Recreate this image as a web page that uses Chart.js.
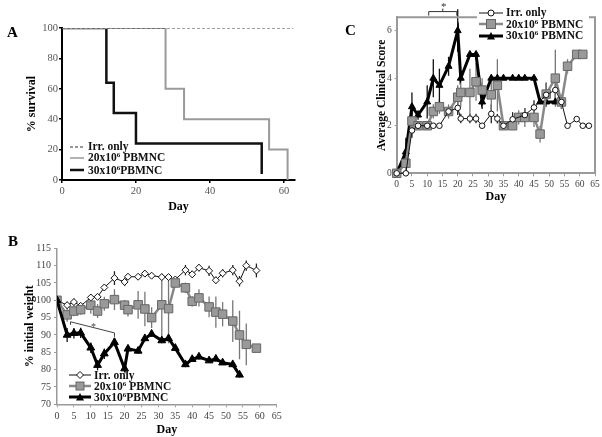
<!DOCTYPE html>
<html>
<head>
<meta charset="utf-8">
<title>Survival, weight and clinical score</title>
<script src="https://cdn.jsdelivr.net/npm/chart.js"></script>
<style>
  body { margin: 0; background: #fff; font-family: "Liberation Serif", "Times New Roman", serif; }
  #wrap { position: relative; width: 602px; height: 437px; overflow: hidden; }
  canvas { position: absolute; left: 0; top: 0; }
  .panel { position: absolute; font-weight: bold; font-size: 15px; line-height: 16px; }
  .legend { position: absolute; font-weight: bold; font-size: 11.5px; line-height: 11px; color: #111; }
  .legend div { display: flex; align-items: center; white-space: nowrap; height: 11px; }
  .legend svg { margin-right: 3px; flex: none; }
  sup { font-size: 7px; vertical-align: 4px; line-height: 0; }
  #legC { background: #fff; padding: 2px 6px 2px 2px; }
</style>
</head>
<body>
<div id="wrap">
  <canvas id="chartA" width="602" height="437"></canvas>
  <canvas id="chartB" width="602" height="437"></canvas>
  <canvas id="chartC" width="602" height="437"></canvas>

  <div class="panel" style="left:7px; top:24px;">A</div>
  <div class="panel" style="left:8px; top:233px;">B</div>
  <div class="panel" style="left:345px; top:22px;">C</div>

  <!-- legenda A -->
  <div class="legend" id="legA" style="left:70px; top:141px;">
    <div><svg width="15" height="8"><line x1="0" y1="4" x2="14" y2="4" stroke="#333" stroke-width="1" stroke-dasharray="3,2"/></svg><span>Irr. only</span></div>
    <div><svg width="15" height="8"><line x1="0" y1="4" x2="14" y2="4" stroke="#9a9a9a" stroke-width="1.5"/></svg><span>20x10<sup>6</sup> PBMNC</span></div>
    <div style="margin-top:1.5px"><svg width="15" height="8"><line x1="0" y1="4" x2="14" y2="4" stroke="#111" stroke-width="2.5"/></svg><span>30x10<sup>6</sup>PBMNC</span></div>
  </div>

  <!-- legenda B -->
  <div class="legend" id="legB" style="left:69px; top:369.5px;">
    <div><svg width="22" height="10"><line x1="0" y1="5" x2="22" y2="5" stroke="#111" stroke-width="1"/><path d="M11 1.5 L14.5 5 L11 8.5 L7.5 5 Z" fill="#fff" stroke="#111" stroke-width="1"/></svg><span>Irr. only</span></div>
    <div><svg width="22" height="10"><line x1="0" y1="5" x2="22" y2="5" stroke="#888" stroke-width="2.5"/><rect x="7" y="1" width="8" height="8" fill="#999" stroke="#666" stroke-width="1"/></svg><span>20x10<sup>6</sup> PBMNC</span></div>
    <div><svg width="22" height="10"><line x1="0" y1="5" x2="22" y2="5" stroke="#000" stroke-width="3"/><path d="M11 1 L15 8.5 L7 8.5 Z" fill="#000"/></svg><span>30x10<sup>6</sup>PBMNC</span></div>
  </div>

  <!-- legenda C -->
  <div class="legend" id="legC" style="left:477px; top:5px; line-height:11.5px;">
    <div style="height:11.5px"><svg width="24" height="10"><line x1="0" y1="5" x2="24" y2="5" stroke="#111" stroke-width="1"/><circle cx="12" cy="5" r="3" fill="#fff" stroke="#111" stroke-width="1"/></svg><span>Irr. only</span></div>
    <div style="height:11.5px"><svg width="24" height="10"><line x1="0" y1="5" x2="24" y2="5" stroke="#888" stroke-width="2.5"/><rect x="7.5" y="0.5" width="9" height="9" fill="#999" stroke="#666" stroke-width="1"/></svg><span>20x10<sup>6</sup> PBMNC</span></div>
    <div style="height:11.5px"><svg width="24" height="10"><line x1="0" y1="5" x2="24" y2="5" stroke="#000" stroke-width="3"/><path d="M12 1 L16 8.5 L8 8.5 Z" fill="#000"/></svg><span>30x10<sup>6</sup> PBMNC</span></div>
  </div>
</div>

<script>
  // ---- A: sopravvivenza (%) ----
  const survDaysIrr = [0, 62.5];
  const survIrr = [100, 100];
  const survDays20 = [0, 28, 33, 56, 61];
  const surv20 = [100, 60, 40, 20, 0];
  const survDays30 = [0, 12, 14, 20, 54];
  const surv30 = [100, 64, 44, 24, 4];
  const survTicksX = [0, 20, 40, 60];

  // ---- B: peso iniziale (%) ----
  const wDays = [0, 3, 5, 7, 10, 12, 14, 17, 20, 21, 24, 26, 28, 31, 33, 35, 38, 40, 42, 45, 47, 49, 52, 54, 56, 59];
  const wIrr = [100, 98.6, 99.5, 98.4, 100.8, 101, 103.7, 106.4, 105.3, 106.8, 106.8, 107.7, 107.1, 106.7, 106.7, 106, 108.7, 107.5, 109.4, 108.5, 105.8, 107.8, 108.7, 105.5, 110, 108.6];
  const wIrrErr = [0, 1, 1, 0.8, 1, 0.6, 0.8, 2, 1.2, 0.6, 0.6, 0.6, 0.6, 0.6, 0.6, 0.6, 1.5, 1, 1, 1.5, 1, 1.2, 1.5, 1.5, 1.5, 2];
  const w20 = [100, 95.8, 96.9, 97.3, 98.6, 96.9, 99, 100.2, 98.6, 97.3, 98.7, 97.5, 95, 98.7, 97.6, 105, 103.6, 99.7, 100.7, 98.1, 96.6, 96, 94, 90, 87.3, 86.2];
  const w20Err = [0, 2, 1.5, 1.5, 2.5, 2, 2, 3, 1.5, 2, 4, 5, 3, 9, 10, 1, 1.5, 1.5, 2.5, 3, 4.5, 3.5, 6, 7, 6, 0];
  const wDays30 = [0, 3, 5, 7, 10, 12, 14, 17, 20, 21, 24, 26, 28, 31, 33, 35, 38, 40, 42, 45, 47, 49, 52, 54];
  const w30 = [100, 90, 90.5, 90.6, 86.3, 81.3, 84.6, 87.9, 80.3, 86, 85.4, 89, 90.3, 88.4, 89, 86.2, 81.5, 83, 83.7, 82.6, 83.1, 82, 81.5, 78.5];
  const w30Err = [0, 2, 1.5, 1.5, 1.5, 1.5, 1.5, 1.2, 0.8, 0.8, 0.8, 0.8, 0.8, 0.8, 0.8, 0.8, 0.8, 0.8, 0.8, 0.6, 0.6, 0.6, 0.8, 0.8];
  const sigDaysB = [4, 17];
  const sigValsB = [93.8, 90.6];

  // ---- C: punteggio clinico medio ----
  const cDaysIrr = [0, 3, 5, 7, 10, 12, 14, 17, 20, 21, 24, 26, 28, 31, 33, 35, 38, 42, 45, 49, 52, 54, 56, 59, 61, 63];
  const cIrr = [0, 0, 1.8, 2, 2, 2, 2, 2.6, 2.75, 2.3, 2.3, 2.3, 2.0, 2.5, 2.3, 2.0, 2.27, 2.45, 2.77, 3.3, 3.5, 3.0, 2.0, 2.28, 2.0, 2.0];
  const cIrrErr = [0, 0, 0.3, 0, 0, 0, 0, 0.2, 0.3, 0.2, 0.2, 0.2, 0, 0.4, 0.2, 0, 0.3, 0.3, 0.3, 0.5, 0.5, 0.3, 0, 0, 0, 0];
  const cDays20 = [0, 3, 5, 7, 10, 12, 14, 17, 20, 21, 24, 26, 28, 31, 33, 35, 38, 40, 42, 45, 47, 49, 52, 54, 56, 59, 61];
  const c20 = [0, 0.42, 2.2, 2.0, 2.0, 2.6, 2.8, 2.6, 3.2, 3.4, 3.4, 3.85, 3.5, 3.3, 3.7, 2.0, 2.0, 2.35, 2.35, 2.35, 1.65, 3.33, 4.0, 3.0, 4.5, 5.0, 5.0];
  const c20Err = [0, 0.5, 0.4, 0, 0, 0.3, 0.3, 0.3, 0.5, 0.6, 1, 0.8, 0.5, 0.8, 1.1, 0, 0, 0.3, 0.4, 0.4, 0.35, 0.5, 1.2, 0.3, 0.3, 0, 0];
  const cDays30 = [0, 3, 5, 7, 10, 12, 14, 17, 20, 21, 24, 26, 28, 31, 33, 35, 38, 40, 42, 45, 47, 49, 52, 54];
  const c30 = [0, 0.9, 2.8, 2.45, 3.0, 4.0, 3.7, 4.5, 6.0, 4.0, 5.0, 5.0, 3.0, 4.0, 4, 4, 4, 4, 4, 4, 3, 3, 3, 3];
  const c30Err = [0, 0.6, 0.6, 0.2, 0.7, 0.8, 0.7, 0.4, 0.9, 0, 0, 0, 0.3, 0, 0, 0, 0, 0, 0, 0, 0, 0, 0, 0];
  const sigDaysC = [10.5, 19.7];
  const sigLevelC = 6.8;

  const serif = "'Liberation Serif', 'Times New Roman', serif";
  const pts = (xs, ys) => xs.map((d, i) => ({ x: d, y: ys[i] }));

  // barre d'errore verticali (solo il tratto, come nell'originale)
  const errorBars = {
    id: 'errorBars',
    beforeDatasetsDraw(chart) {
      const { ctx, scales: { x, y } } = chart;
      chart.data.datasets.forEach(ds => {
        if (!ds.errors) return;
        ctx.save();
        ctx.strokeStyle = ds.errColor;
        ctx.lineWidth = 1.3;
        ds.data.forEach((p, i) => {
          const e = ds.errors[i];
          if (!e) return;
          const px = x.getPixelForValue(p.x);
          ctx.beginPath();
          ctx.moveTo(px, y.getPixelForValue(p.y - e));
          ctx.lineTo(px, y.getPixelForValue(p.y + e));
          ctx.stroke();
        });
        ctx.restore();
      });
    }
  };

  function axisTitle(text, pad) {
    return { display: true, text: text, color: '#000', font: { family: serif, size: 12, weight: 'bold' }, padding: pad };
  }

  // ---------- A ----------
  // il primo dataset viene disegnato sopra gli altri
  new Chart(document.getElementById('chartA'), {
    type: 'line',
    data: {
      datasets: [
        { label: 'Irr. only', data: pts(survDaysIrr, survIrr), borderColor: '#444', borderWidth: 1, borderDash: [3, 2], pointRadius: 0, stepped: true },
        { label: '20x10^6 PBMNC', data: pts(survDays20, surv20), borderColor: '#9a9a9a', borderWidth: 2, pointRadius: 0, stepped: true },
        { label: '30x10^6PBMNC', data: pts(survDays30, surv30), borderColor: '#111', borderWidth: 2.5, pointRadius: 0, stepped: true }
      ]
    },
    options: {
      responsive: false, animation: false,
      layout: { padding: { left: 0, top: 28, right: 307, bottom: 223 } },
      plugins: { legend: { display: false }, tooltip: { enabled: false } },
      scales: {
        x: {
          type: 'linear', min: 0, max: 63,
          afterBuildTicks: s => { s.ticks = survTicksX.map(v => ({ value: v })); },
          ticks: { color: '#555', font: { family: serif, size: 10.5 }, padding: 2, maxRotation: 0 },
          grid: { drawOnChartArea: false, tickLength: 3, color: '#000', lineWidth: 1.5 },
          border: { color: '#000', width: 2 },
          title: axisTitle('Day', { top: 0, bottom: 0 }),
          afterFit: s => { s.height = 34; }
        },
        y: {
          min: 0, max: 100,
          ticks: { stepSize: 20, color: '#555', font: { family: serif, size: 10.5 }, padding: 1 },
          grid: { drawOnChartArea: false, tickLength: 3, color: '#000', lineWidth: 1.5 },
          border: { color: '#000', width: 2 },
          title: axisTitle('% survival', { top: 25, bottom: 0 }),
          afterFit: s => { s.width = 62; }
        }
      }
    }
  });

  // ---------- B ----------
  const bracketB = {
    id: 'bracketB',
    afterDatasetsDraw(chart) {
      const { ctx, scales: { x, y } } = chart;
      const x0 = x.getPixelForValue(sigDaysB[0]), x1 = x.getPixelForValue(sigDaysB[1]);
      const y0 = y.getPixelForValue(sigValsB[0]), y1 = y.getPixelForValue(sigValsB[1]);
      ctx.save();
      ctx.strokeStyle = '#444';
      ctx.lineWidth = 1;
      ctx.beginPath();
      ctx.moveTo(x0, y0 + 3); ctx.lineTo(x0, y0); ctx.lineTo(x1, y1); ctx.lineTo(x1, y1 + 4);
      ctx.stroke();
      ctx.fillStyle = '#444';
      ctx.font = '10px ' + serif;
      ctx.textAlign = 'center';
      ctx.fillText('*', (x0 + x1) / 2 + 1, (y0 + y1) / 2 + 3);
      ctx.restore();
    }
  };

  new Chart(document.getElementById('chartB'), {
    type: 'line',
    data: {
      datasets: [
        { label: '30x10^6PBMNC', data: pts(wDays30, w30), errors: w30Err, errColor: '#111',
          borderColor: '#000', borderWidth: 3, pointStyle: 'triangle', pointRadius: 4.5,
          pointBackgroundColor: '#000', pointBorderColor: '#000', pointBorderWidth: 1 },
        { label: '20x10^6 PBMNC', data: pts(wDays, w20), errors: w20Err, errColor: '#777',
          borderColor: '#888', borderWidth: 2.5, pointStyle: 'rect', pointRadius: 6,
          pointBackgroundColor: '#999', pointBorderColor: '#666', pointBorderWidth: 1 },
        { label: 'Irr. only', data: pts(wDays, wIrr), errors: wIrrErr, errColor: '#222',
          borderColor: '#111', borderWidth: 1, pointStyle: 'rectRot', pointRadius: 3.5,
          pointBackgroundColor: '#fff', pointBorderColor: '#111', pointBorderWidth: 1 }
      ]
    },
    options: {
      responsive: false, animation: false,
      layout: { padding: { left: 0, top: 248.3, right: 325.3, bottom: 0 } },
      plugins: { legend: { display: false }, tooltip: { enabled: false } },
      scales: {
        x: {
          type: 'linear', min: 0, max: 65,
          ticks: { stepSize: 5, color: '#444', font: { family: serif, size: 10 }, padding: 3, maxRotation: 0, autoSkip: false },
          grid: { drawOnChartArea: false, tickLength: 3, color: '#999' },
          border: { color: '#999', width: 1.5 },
          title: axisTitle('Day', { top: 0, bottom: 0 }),
          afterFit: s => { s.height = 32.7; }
        },
        y: {
          min: 70, max: 115,
          ticks: { stepSize: 5, color: '#444', font: { family: serif, size: 10 }, padding: 3 },
          grid: { drawOnChartArea: false, tickLength: 3, color: '#999' },
          border: { color: '#999', width: 1.5 },
          title: axisTitle('% initial weight', { top: 22.8, bottom: 0 }),
          afterFit: s => { s.width = 57; }
        }
      }
    },
    plugins: [errorBars, bracketB]
  });

  // ---------- C ----------
  const frameC = {
    id: 'frameC',
    beforeDatasetsDraw(chart) {
      const { ctx, chartArea: a } = chart;
      ctx.save();
      ctx.strokeStyle = '#999';
      ctx.lineWidth = 2;
      ctx.beginPath();
      ctx.moveTo(a.left, a.top); ctx.lineTo(a.right, a.top); ctx.lineTo(a.right, a.bottom);
      ctx.stroke();
      ctx.restore();
    },
    afterDraw(chart) {
      const { ctx, scales: { x, y } } = chart;
      const x0 = x.getPixelForValue(sigDaysC[0]), x1 = x.getPixelForValue(sigDaysC[1]);
      const yl = y.getPixelForValue(sigLevelC);
      const xm = (x0 + x1) / 2;
      ctx.save();
      ctx.strokeStyle = '#333';
      ctx.lineWidth = 1;
      ctx.beginPath();
      ctx.moveTo(x0, yl + 4); ctx.lineTo(x0, yl); ctx.lineTo(x1, yl); ctx.lineTo(x1, yl + 4);
      ctx.moveTo(xm, yl); ctx.lineTo(xm, yl - 3);
      ctx.stroke();
      ctx.fillStyle = '#333';
      ctx.font = '11px ' + serif;
      ctx.textAlign = 'center';
      ctx.fillText('*', xm + 1, yl - 2);
      ctx.restore();
    }
  };

  new Chart(document.getElementById('chartC'), {
    type: 'line',
    data: {
      datasets: [
        { label: 'Irr. only', data: pts(cDaysIrr, cIrr), errors: cIrrErr, errColor: '#222',
          borderColor: '#111', borderWidth: 1, pointStyle: 'circle', pointRadius: 2.8,
          pointBackgroundColor: '#fff', pointBorderColor: '#111', pointBorderWidth: 1 },
        { label: '20x10^6 PBMNC', data: pts(cDays20, c20), errors: c20Err, errColor: '#777',
          borderColor: '#888', borderWidth: 2.5, pointStyle: 'rect', pointRadius: 6,
          pointBackgroundColor: '#999', pointBorderColor: '#666', pointBorderWidth: 1 },
        { label: '30x10^6 PBMNC', data: pts(cDays30, c30), errors: c30Err, errColor: '#111',
          borderColor: '#000', borderWidth: 3, pointStyle: 'triangle', pointRadius: 4,
          pointBackgroundColor: '#000', pointBorderColor: '#000', pointBorderWidth: 1 }
      ]
    },
    options: {
      responsive: false, animation: false,
      clip: false,
      layout: { padding: { left: 0, top: 17.3, right: 4.7, bottom: 232.7 } },
      plugins: { legend: { display: false }, tooltip: { enabled: false } },
      scales: {
        x: {
          type: 'linear', min: 0, max: 65,
          ticks: { stepSize: 5, color: '#444', font: { family: serif, size: 9.5 }, padding: 2, maxRotation: 0, autoSkip: false },
          grid: { drawOnChartArea: false, tickLength: 3, color: '#999' },
          border: { color: '#999', width: 2 },
          title: axisTitle('Day', { top: 0, bottom: 0 }),
          afterFit: s => { s.height = 31; }
        },
        y: {
          min: 0, max: 6.56,
          ticks: { stepSize: 2, includeBounds: false, color: '#444', font: { family: serif, size: 9.5 }, padding: 3 },
          grid: { drawOnChartArea: false, tickLength: 2, color: '#999' },
          border: { color: '#999', width: 2 },
          title: { display: true, text: 'Average Clinical Score', color: '#000', font: { family: serif, size: 11.5, weight: 'bold' }, padding: { top: 375.1, bottom: 0 } },
          afterFit: s => { s.width = 396.7; }
        }
      }
    },
    plugins: [errorBars, frameC]
  });
</script>
</body>
</html>
